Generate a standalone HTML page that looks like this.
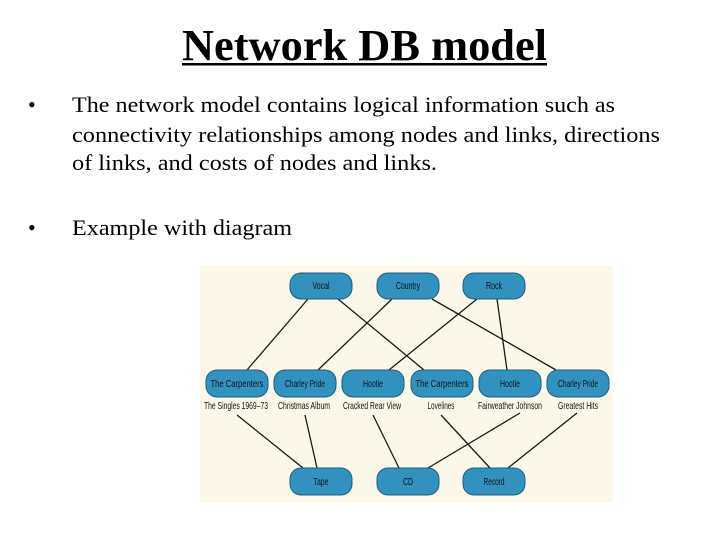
<!DOCTYPE html>
<html><head><meta charset="utf-8"><style>
html,body{margin:0;padding:0;background:#fff;}
svg{display:block}
</style></head><body>
<svg width="728" height="546" xmlns="http://www.w3.org/2000/svg">
<rect width="728" height="546" fill="#fff"/>
<g font-family="'Liberation Serif', serif" fill="#000">
<text x="182" y="60" font-size="44" font-weight="bold" textLength="365" lengthAdjust="spacingAndGlyphs">Network DB model</text>
<rect x="182" y="63" width="365" height="2.5" fill="#000"/>
<g font-size="22">
<text x="28" y="112">•</text>
<text x="72" y="112" textLength="543" lengthAdjust="spacingAndGlyphs">The network model contains logical information such as</text>
<text x="72" y="142" textLength="588" lengthAdjust="spacingAndGlyphs">connectivity relationships among nodes and links, directions</text>
<text x="72" y="170" textLength="365" lengthAdjust="spacingAndGlyphs">of links, and costs of nodes and links.</text>
<text x="28" y="235">•</text>
<text x="72" y="235" textLength="220" lengthAdjust="spacingAndGlyphs">Example with diagram</text>
</g>
</g>
<rect x="200" y="266" width="413" height="236" fill="#fbf7e9"/>
<g stroke="#1a1a1a" stroke-width="1.3">
<line x1="308" y1="299" x2="247" y2="370"/>
<line x1="338" y1="299" x2="424" y2="370"/>
<line x1="392" y1="299" x2="318" y2="370"/>
<line x1="432" y1="299" x2="556" y2="370"/>
<line x1="477" y1="299" x2="389" y2="370"/>
<line x1="497" y1="299" x2="507" y2="370"/>
<line x1="237" y1="415" x2="303" y2="468"/>
<line x1="305" y1="415" x2="317" y2="468"/>
<line x1="373" y1="415" x2="399" y2="468"/>
<line x1="520" y1="413" x2="428" y2="468"/>
<line x1="441" y1="415" x2="490" y2="468"/>
<line x1="577" y1="413" x2="508" y2="468"/>
</g>
<g fill="#3192c0" stroke="#1d5f80" stroke-width="1">
<rect x="290" y="273" width="62" height="26" rx="11"/>
<rect x="377" y="273" width="62" height="26" rx="11"/>
<rect x="463" y="273" width="62" height="26" rx="11"/>
<rect x="206" y="370" width="62" height="27" rx="11"/>
<rect x="274" y="370" width="62" height="27" rx="11"/>
<rect x="342" y="370" width="62" height="27" rx="11"/>
<rect x="411" y="370" width="62" height="27" rx="11"/>
<rect x="479" y="370" width="62" height="27" rx="11"/>
<rect x="547" y="370" width="62" height="27" rx="11"/>
<rect x="290" y="468" width="62" height="27" rx="11"/>
<rect x="377" y="468" width="62" height="27" rx="11"/>
<rect x="463" y="468" width="62" height="27" rx="11"/>
</g>
<g font-family="'Liberation Sans', sans-serif" font-size="10.5" fill="#111" text-anchor="middle">
<text x="321" y="289" textLength="17" lengthAdjust="spacingAndGlyphs">Vocal</text>
<text x="408" y="289" textLength="24" lengthAdjust="spacingAndGlyphs">Country</text>
<text x="494" y="289" textLength="16" lengthAdjust="spacingAndGlyphs">Rock</text>
<text x="237" y="387" textLength="53" lengthAdjust="spacingAndGlyphs">The Carpenters</text>
<text x="305" y="387" textLength="40" lengthAdjust="spacingAndGlyphs">Charley Pride</text>
<text x="373" y="387" textLength="20" lengthAdjust="spacingAndGlyphs">Hootie</text>
<text x="442" y="387" textLength="53" lengthAdjust="spacingAndGlyphs">The Carpenters</text>
<text x="510" y="387" textLength="20" lengthAdjust="spacingAndGlyphs">Hootie</text>
<text x="578" y="387" textLength="40" lengthAdjust="spacingAndGlyphs">Charley Pride</text>
<text x="236" y="409" textLength="64" lengthAdjust="spacingAndGlyphs">The Singles 1969–73</text>
<text x="304" y="409" textLength="52" lengthAdjust="spacingAndGlyphs">Christmas Album</text>
<text x="372" y="409" textLength="58" lengthAdjust="spacingAndGlyphs">Cracked Rear View</text>
<text x="441" y="409" textLength="27" lengthAdjust="spacingAndGlyphs">Lovelines</text>
<text x="510" y="409" textLength="64" lengthAdjust="spacingAndGlyphs">Fairweather Johnson</text>
<text x="578" y="409" textLength="40" lengthAdjust="spacingAndGlyphs">Greatest Hits</text>
<text x="321" y="485" textLength="15" lengthAdjust="spacingAndGlyphs">Tape</text>
<text x="408" y="485" textLength="10" lengthAdjust="spacingAndGlyphs">CD</text>
<text x="494" y="485" textLength="21" lengthAdjust="spacingAndGlyphs">Record</text>
</g>
</svg>
</body></html>
